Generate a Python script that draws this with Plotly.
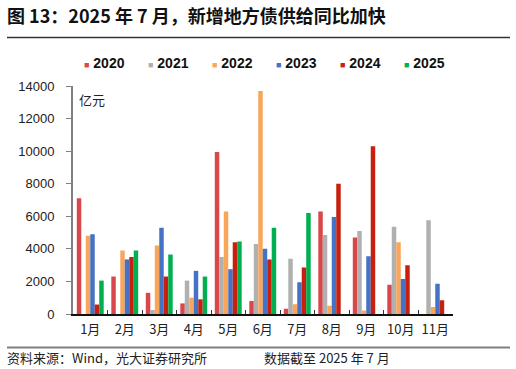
import plotly.graph_objects as go

months = ["1月", "2月", "3月", "4月", "5月", "6月", "7月", "8月", "9月", "10月", "11月"]
years = ["2020", "2021", "2022", "2023", "2024", "2025"]
v2020 = [7100, 2300, 1300, 650, 9950, 800, 330, 6300, 4700, 1800, None]
v2021 = [None, None, 250, 2050, 3500, 4300, 3400, 4850, 5100, 5350, 5750]
v2022 = [4800, 3900, 4200, 1000, 6300, 13700, 600, 500, 220, 4400, 430]
v2023 = [4900, 3350, 5300, 2650, 2750, 4000, 1950, 5950, 3550, 2150, 1850]
v2024 = [580, 3500, 2300, 900, 4400, 3350, 2850, 8000, 10300, 3000, 850]
v2025 = [2050, 3900, 3650, 2300, 4450, 5300, 6200, None, None, None, None]
series = [v2020, v2021, v2022, v2023, v2024, v2025]
colors = ["#D9474B", "#B0B0B0", "#F9A65A", "#4472C4", "#C8200E", "#00B050"]
y_ticks = [0, 2000, 4000, 6000, 8000, 10000, 12000, 14000]

FONT = "Arial, 'Liberation Sans', 'Noto Sans CJK SC'"
CJK = "'Noto Sans CJK SC', Arial"

fig = go.Figure()
for name, vals, c in zip(years, series, colors):
    fig.add_trace(go.Bar(x=months, y=vals, name=name, marker=dict(color=c, line=dict(width=0)),
                         showlegend=False))
for i, (name, c) in enumerate(zip(years, colors)):
    fig.add_trace(go.Scatter(x=[None], y=[None], mode="lines", line=dict(width=0, color="rgba(0,0,0,0)"),
                             name=f"<span style='color:{c};font-size:9px'>■</span> <b>{name}</b>",
                             legendwidth=(19 if i < len(years) - 1 else 45),
                             showlegend=True))

W, H = 516, 369
L, R, T, B = 73, 452.5, 86, 314   # plot area in pixels


def fx(x):
    return x / W


def fy(y):
    return 1 - y / H


fig.update_layout(
    width=W, height=H,
    margin=dict(l=0, r=0, t=0, b=0, pad=0, autoexpand=False),
    paper_bgcolor="white", plot_bgcolor="white",
    barmode="group", bargap=0.22, bargroupgap=0,
    font=dict(family=FONT, size=13, color="#222"),
    legend=dict(orientation="h", x=fx(44), xanchor="left", y=fy(63), yanchor="middle",
                entrywidth=19, entrywidthmode="pixels", font=dict(size=14, family=FONT, color="#111"),
                bgcolor="rgba(0,0,0,0)", itemclick=False, tracegroupgap=0),
    xaxis=dict(domain=[fx(L), fx(R)], showline=True, linecolor="#111", linewidth=1.5, ticks="inside",
               ticklen=4, tickcolor="#333", tickson="boundaries", showgrid=False, tickangle=0,
               tickfont=dict(family=CJK, size=13, color="#222"), ticklabelstandoff=3),
    yaxis=dict(domain=[fy(B), fy(T)], range=[0, 14000], tickvals=y_ticks, tickformat="d", showline=True,
               linecolor="#808080", linewidth=2, ticks="outside", ticklen=5, tickcolor="#808080",
               showgrid=False, zeroline=False, tickfont=dict(size=13, color="#222"), ticklabelstandoff=9),
    annotations=[
        dict(text="<b>图 13：2025 年 7 月，新增地方债供给同比加快</b>", xref="paper", yref="paper",
             x=fx(5), y=fy(15), xanchor="left", yanchor="middle", showarrow=False,
             font=dict(family=CJK, size=18, color="#111")),
        dict(text="亿元", xref="paper", yref="paper", x=fx(77), y=fy(100), xanchor="left",
             yanchor="middle", showarrow=False, font=dict(family=CJK, size=13, color="#222")),
        dict(text="资料来源：Wind，光大证券研究所", xref="paper", yref="paper", x=fx(5), y=fy(357),
             xanchor="left", yanchor="middle", showarrow=False, font=dict(family=CJK, size=13, color="#222")),
        dict(text="数据截至 2025 年 7 月", xref="paper", yref="paper", x=fx(262), y=fy(357),
             xanchor="left", yanchor="middle", showarrow=False, font=dict(family=CJK, size=13, color="#222")),
    ],
    shapes=[
        dict(type="line", xref="paper", yref="paper", x0=fx(7), x1=fx(510), y0=fy(37.5), y1=fy(37.5),
             line=dict(color="#333333", width=1.5), layer="above"),
        dict(type="line", xref="paper", yref="paper", x0=fx(7), x1=fx(510), y0=fy(347.5), y1=fy(347.5),
             line=dict(color="#808080", width=2), layer="above"),
    ],
)

fig.write_html("out.html", post_script="document.body.style.margin='0px';",
               config={"displayModeBar": False})
